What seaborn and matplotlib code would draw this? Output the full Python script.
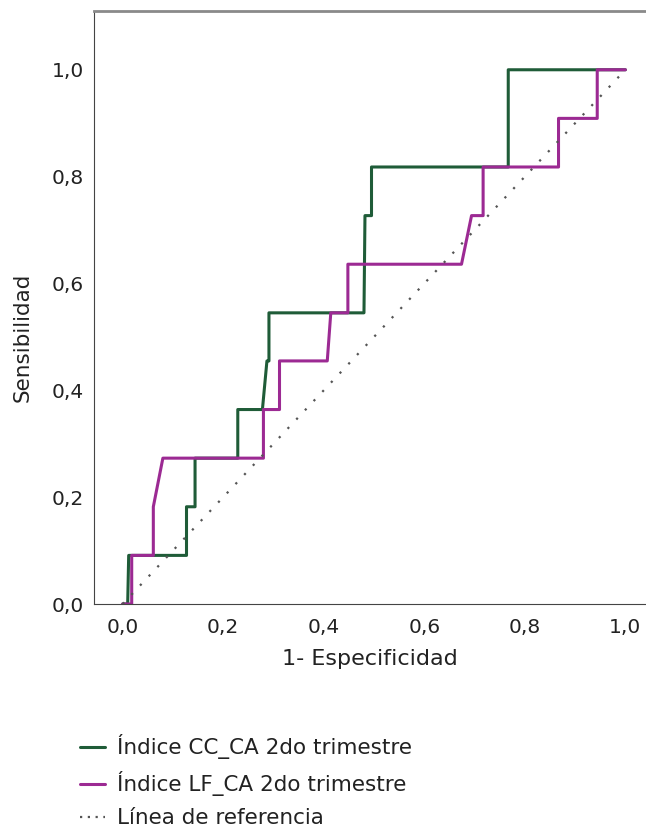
import pandas as pd
import matplotlib
matplotlib.use("Agg")
import matplotlib.pyplot as plt
import seaborn as sns

# Puntos de la curva COR (1 - especificidad, sensibilidad)
fpr_cc = [0.0, 0.010, 0.012, 0.127, 0.127, 0.144, 0.144, 0.229, 0.229, 0.278,
          0.287, 0.291, 0.291, 0.480, 0.482, 0.495, 0.495, 0.767, 0.767, 1.0]
tpr_cc = [0.0, 0.0, 0.091, 0.091, 0.182, 0.182, 0.273, 0.273, 0.364, 0.364,
          0.455, 0.455, 0.545, 0.545, 0.727, 0.727, 0.818, 0.818, 1.0, 1.0]

fpr_lf = [0.0, 0.018, 0.018, 0.061, 0.061, 0.080, 0.280, 0.280, 0.312, 0.312,
          0.407, 0.414, 0.448, 0.448, 0.674, 0.694, 0.717, 0.717, 0.867, 0.867,
          0.944, 0.944, 1.0]
tpr_lf = [0.0, 0.0, 0.091, 0.091, 0.182, 0.273, 0.273, 0.364, 0.364, 0.455,
          0.455, 0.545, 0.545, 0.636, 0.636, 0.727, 0.727, 0.818, 0.818, 0.909,
          0.909, 1.0, 1.0]

ref_x = [0.0, 1.0]
ref_y = [0.0, 1.0]

nombres = ["Índice CC_CA 2do trimestre", "Índice LF_CA 2do trimestre"]
colores = ["#1f5c38", "#9c2a93"]

df = pd.concat([
    pd.DataFrame({"x": fpr_cc, "y": tpr_cc, "curva": nombres[0]}),
    pd.DataFrame({"x": fpr_lf, "y": tpr_lf, "curva": nombres[1]}),
], ignore_index=True)

sns.set_style("white")
plt.rcParams["font.family"] = ["DejaVu Sans"]

fig = plt.figure(figsize=(6.46, 8.34), dpi=100)
ax = fig.add_axes([94 / 646, 230 / 834, 552 / 646, 593 / 834])

sns.lineplot(data=df, x="x", y="y", hue="curva", palette=colores,
             sort=False, estimator=None, linewidth=2.2, ax=ax, legend=False)
ax.plot(ref_x, ref_y, linestyle=(0, (1, 4.7)), color="#555555", linewidth=1.6)

ax.set_xlim(-0.057, 1.041)
ax.set_ylim(0.0, 1.11)
ticks = [0.0, 0.2, 0.4, 0.6, 0.8, 1.0]
etiquetas = ["0,0", "0,2", "0,4", "0,6", "0,8", "1,0"]
ax.set_xticks(ticks)
ax.set_xticklabels(etiquetas)
ax.set_yticks(ticks)
ax.set_yticklabels(etiquetas)
ax.tick_params(axis="both", direction="out", length=6.5, width=1, color="#333333",
               labelsize=14.5, labelcolor="#222222", pad=1)
ax.tick_params(axis="x", pad=3.5)

ax.spines["right"].set_visible(False)
ax.spines["left"].set_color("#444444")
ax.spines["bottom"].set_color("#444444")
ax.spines["top"].set_color("#8a8a8a")
ax.spines["top"].set_linewidth(2)
ax.set_xlabel("1- Especificidad", fontsize=16, color="#222222")
ax.set_ylabel("Sensibilidad", fontsize=15.5, color="#222222")
# etiquetas centradas sobre el rango 0-1, como en el original
ax.xaxis.set_label_coords(0.5, -0.076)
ax.yaxis.set_label_coords(-0.112, 0.45)

handles = [
    plt.Line2D([], [], color=colores[0], linewidth=2.2),
    plt.Line2D([], [], color=colores[1], linewidth=2.2),
    plt.Line2D([], [], color="#555555", linewidth=1.6, linestyle=(0, (1, 2.5))),
]
fig.legend(handles, nombres + ["Línea de referencia"], loc="upper left",
           bbox_to_anchor=(61 / 646, 1 - 715 / 834), frameon=False,
           fontsize=15.5, handlelength=1.16, handletextpad=0.55, labelspacing=0.55,
           labelcolor="#222222")

fig.savefig("out.png", dpi=100)
